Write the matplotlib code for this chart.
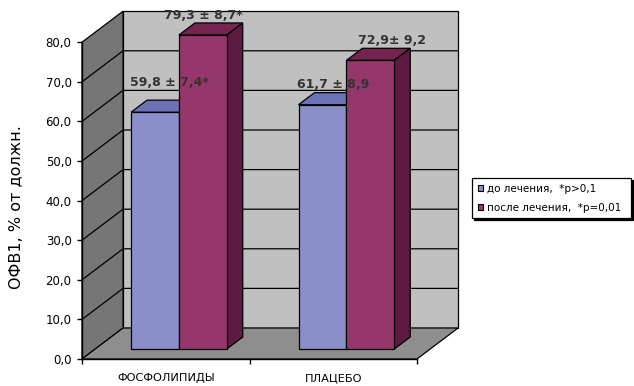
import matplotlib
matplotlib.use("Agg")
import matplotlib.pyplot as plt
from matplotlib.patches import Polygon, Patch
import matplotlib.transforms as mtransforms

# ---- data ----
categories = ["ФОСФОЛИПИДЫ", "ПЛАЦЕБО"]
series_names = ["до лечения,  *р>0,1", "после лечения,  *р=0,01"]
before = [59.8, 61.7]
after = [79.3, 72.9]
before_err = [" ± 7,4*", " ± 8,9"]
after_err = [" ± 8,7*", "± 9,2"]
y_ticks = [0, 10, 20, 30, 40, 50, 60, 70, 80]
y_label = "ОФВ1, % от должн."

# ---- style ----
W, H = 634, 386
GAP = 1.5            # gap between groups, in bar widths
DEPTH_X = 0.245      # full floor depth, in category units
DEPTH_Y = 7.83       # full floor depth, in value units
BAR_FRONT = 0.32     # depth fraction where the bar front face sits
BAR_DEPTH = 0.39     # bar thickness as depth fraction

WALL_BACK = "#c0c0c0"
WALL_SIDE = "#767676"
FLOOR = "#8e8e8e"
COLORS = [
    dict(front="#8b8fc9", top="#6d71b6", side="#585c9c"),
    dict(front="#95376b", top="#75234f", side="#5c1a41"),
]
TEXT = "#333333"
# label nudges (points) relative to the top-back centre of each bar
LABEL_NUDGE = [[(-1, 8), (-11, 1)], [(-4, 1), (4, 1)]]

fig = plt.figure(figsize=(W / 100, H / 100), dpi=100)
ax = fig.add_axes([82 / W, 27 / H, 335 / W, 316.8 / H])
ax.set_xlim(0, len(categories))
ax.set_ylim(0, 80)
ax.patch.set_visible(False)


def proj(x, y, d):
    return (x + d * DEPTH_X, y + d * DEPTH_Y)


def poly(pts, fc, z, lw=0.9):
    ax.add_patch(Polygon(pts, closed=True, facecolor=fc, edgecolor="black",
                         linewidth=lw, clip_on=False, zorder=z, joinstyle="miter"))


n_cat = len(categories)
ymax = y_ticks[-1]

# walls and floor
poly([proj(0, 0, 1), proj(n_cat, 0, 1), proj(n_cat, ymax, 1), proj(0, ymax, 1)], WALL_BACK, 1)
poly([proj(0, 0, 0), proj(0, 0, 1), proj(0, ymax, 1), proj(0, ymax, 0)], WALL_SIDE, 1)
poly([proj(0, 0, 0), proj(n_cat, 0, 0), proj(n_cat, 0, 1), proj(0, 0, 1)], FLOOR, 1)

# gridlines on back and side walls
for t in y_ticks[1:-1]:
    x0, y0 = proj(0, t, 0)
    x1, y1 = proj(0, t, 1)
    x2, y2 = proj(n_cat, t, 1)
    ax.plot([x0, x1, x2], [y0, y1, y2], color="black", lw=0.9,
            clip_on=False, zorder=2, solid_joinstyle="miter")

# bars
series = [before, after]
errs = [before_err, after_err]
n_ser = len(series)
bw = 1.0 / (n_ser + GAP)
z = 3
label_specs = []
for c in range(n_cat):
    for s in range(n_ser):
        v = series[s][c]
        col = COLORS[s]
        x0 = c + 0.5 - n_ser * bw / 2 + s * bw
        x1 = x0 + bw
        d0, d1 = BAR_FRONT, BAR_FRONT + BAR_DEPTH
        poly([proj(x0, v, d0), proj(x1, v, d0), proj(x1, v, d1), proj(x0, v, d1)], col["top"], z)
        poly([proj(x1, 0, d0), proj(x1, 0, d1), proj(x1, v, d1), proj(x1, v, d0)], col["side"], z)
        poly([proj(x0, 0, d0), proj(x1, 0, d0), proj(x1, v, d0), proj(x0, v, d0)], col["front"], z)
        z += 1
        text = f"{v:.1f}".replace(".", ",") + errs[s][c]
        label_specs.append((proj((x0 + x1) / 2, v, d1), text, LABEL_NUDGE[c][s]))

for (lx, ly), text, (ox, oy) in label_specs:
    tr = ax.transData + mtransforms.ScaledTranslation(ox / 72, oy / 72, fig.dpi_scale_trans)
    ax.text(lx, ly, text, transform=tr, ha="center", va="bottom",
            fontsize=9, fontweight="bold", color=TEXT, zorder=20, clip_on=False)

# axes
for side in ("top", "right"):
    ax.spines[side].set_visible(False)
for side in ("left", "bottom"):
    ax.spines[side].set_linewidth(1.0)
    ax.spines[side].set_zorder(10)
ax.set_yticks(y_ticks)
ax.set_yticklabels([f"{t:.1f}".replace(".", ",") for t in y_ticks])
ax.tick_params(axis="y", direction="out", length=3.5, width=1.0, pad=4,
               labelsize=8.5, colors="black")
ax.set_xticks(range(n_cat + 1))
ax.set_xticklabels([])
ax.set_xticks([c + 0.5 for c in range(n_cat)], minor=True)
ax.set_xticklabels(categories, minor=True)
ax.tick_params(axis="x", which="major", direction="out", length=3.5, width=1.0)
ax.tick_params(axis="x", which="minor", length=0, pad=10, labelsize=8.2)

fig.text(17 / W, 1 - 207 / H, y_label, rotation=90, ha="center", va="center",
         fontsize=11.5, color="black")

handles = [Patch(facecolor=COLORS[i]["front"], edgecolor="black", linewidth=0.8,
                 label=series_names[i]) for i in range(n_ser)]
leg = fig.legend(handles=handles, loc="upper left", mode="expand",
                 bbox_to_anchor=(472 / W, 1 - 218 / H, 159 / W, 40 / H),
                 fontsize=7.5, frameon=True, fancybox=False,
                 shadow={"color": "black", "alpha": 1.0, "ox": 1.2, "oy": -1.2},
                 handlelength=0.55, handleheight=0.55, handletextpad=0.35,
                 borderpad=0.55, labelspacing=0.85, borderaxespad=0)
leg.get_frame().set_edgecolor("black")
leg.get_frame().set_linewidth(0.9)

fig.savefig("out.png", dpi=100)
